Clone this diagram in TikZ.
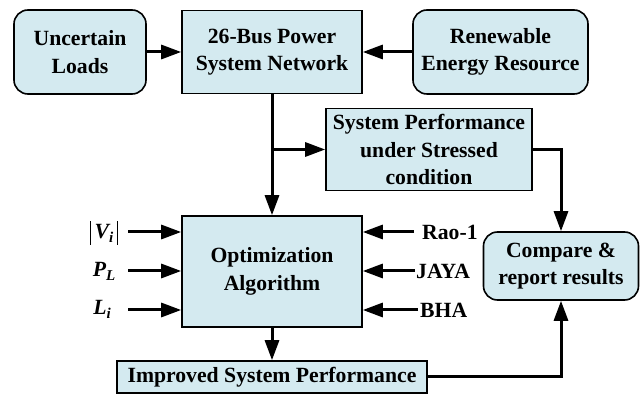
\documentclass[tikz,border=0pt]{standalone}
\usepackage{fontspec}
\setmainfont{Liberation Serif}
\usetikzlibrary{arrows.meta}
\definecolor{boxfill}{RGB}{212,234,240}
\begin{document}
\begin{tikzpicture}[x=1pt,y=-1pt,
  every node/.style={font=\fontsize{21.7}{27.5}\selectfont\bfseries},
  blk/.style={draw=black, line width=1.6pt, fill=boxfill, align=center, inner sep=0pt},
  rblk/.style={blk, rounded corners=14pt},
  conn/.style={line width=3pt, -{Triangle[length=20pt,width=14pt]}},
  lbl/.style={inner sep=0pt}]
\useasboundingbox (0,0) rectangle (641,395);
% boxes
\node[rblk, minimum width=132, minimum height=84] (unc) at (80,52) {Uncertain\\Loads};
\node[blk, minimum width=180, minimum height=83] (bus) at (272,52) {26-Bus Power\\System Network};
\node[rblk, minimum width=175, minimum height=84] (ren) at (500.5,52) {Renewable\\Energy Resource};
\node[blk, minimum width=206, minimum height=82] (sp) at (429,149.5) {System Performance\\under Stressed\\condition};
\node[blk, minimum width=180, minimum height=111] (opt) at (272,271.5) {Optimization\\Algorithm};
\node[rblk, minimum width=155, minimum height=68] (cmp) at (561,266) {Compare \&\\report results};
\node[blk, minimum width=310, minimum height=32] (imp) at (272,377) {Improved System Performance};
% labels
\node[lbl] (vl) at (104,233) {\rule[-6pt]{1.2pt}{24pt}\,\itshape V\raisebox{-4pt}{\fontsize{15}{15}\selectfont\itshape i}\,\rule[-6pt]{1.2pt}{24pt}};
\node[lbl] (pl) at (104,271) {\itshape P\raisebox{-4pt}{\fontsize{15}{15}\selectfont\itshape L}};
\node[lbl] (ll) at (102,309) {\itshape L\raisebox{-4pt}{\fontsize{15}{15}\selectfont\itshape i}};
\node[lbl, anchor=west] (rao) at (422,232) {Rao-1};
\node[lbl, anchor=west] (jaya) at (416,271) {JAYA};
\node[lbl, anchor=west] (bha) at (420,310) {BHA};
% input coordinates
\coordinate (v0) at (128,232);
\coordinate (p0) at (128,271);
\coordinate (l0) at (128,310);
\coordinate (r0) at (414,232);
\coordinate (j0) at (415,271);
\coordinate (b0) at (418,310);
% connectors
\draw[conn] (unc.east) -- (bus.west);
\draw[conn] (ren.west) -- (bus.east);
\draw[conn] (bus.south) -- (opt.north);
\draw[conn] (bus.south |- sp.west) -- (sp.west);
\draw[conn] (sp.east) -| (cmp.north);
\draw[conn] (opt.south) -- (imp.north);
\draw[conn] (imp.east) -| (cmp.south);
\draw[conn] (v0) -- (v0 -| opt.west);
\draw[conn] (p0) -- (p0 -| opt.west);
\draw[conn] (l0) -- (l0 -| opt.west);
\draw[conn] (r0) -- (r0 -| opt.east);
\draw[conn] (j0) -- (j0 -| opt.east);
\draw[conn] (b0) -- (b0 -| opt.east);
\end{tikzpicture}
\end{document}
